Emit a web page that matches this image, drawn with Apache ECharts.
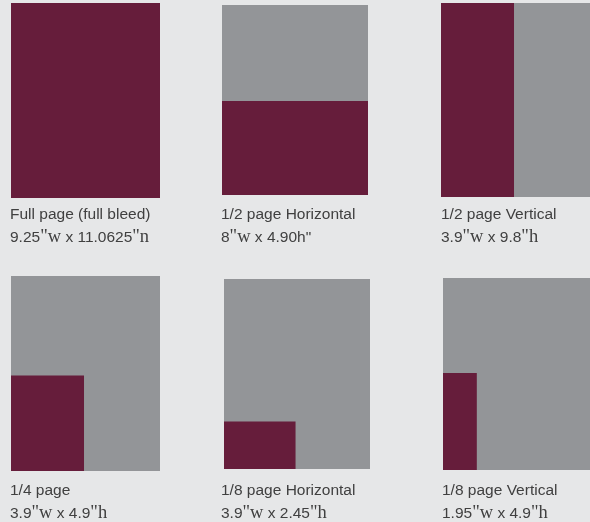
<!DOCTYPE html>
<html><head><meta charset="utf-8">
<script src="https://cdn.jsdelivr.net/npm/echarts@6/dist/echarts.min.js"></script>
<style>html,body{margin:0;padding:0;background:#E6E7E8}#c{width:590px;height:522px}</style>
</head><body><div id="c"></div>
<script>
// Ad formats
const labels = ['Full page (full bleed)', '1/2 page Horizontal', '1/2 page Vertical', '1/4 page', '1/8 page Horizontal', '1/8 page Vertical'];
const sizes = ['9.25"w x 11.0625"n', '8"w x 4.90h"', '3.9"w x 9.8"h', '3.9"w x 4.9"h', '3.9"w x 2.45"h', '1.95"w x 4.9"h'];
// share of the page (width, height) that the ad covers, as drawn
const adWidth = [1, 1, 0.49, 0.49, 0.49, 0.23];
const adHeight = [1, 0.495, 1, 0.49, 0.25, 0.505];

const MAROON = '#661D3B', GRAY = '#939598', TEXT = '#404040';
// layout of the six thumbnails
const boxes = [
  {l: 11, t: 3, w: 149, h: 195, tx: 10, ty: 203},
  {l: 222, t: 5, w: 146, h: 190, tx: 221, ty: 203},
  {l: 441, t: 3, w: 149, h: 194, tx: 441, ty: 203},
  {l: 11, t: 276, w: 149, h: 195, tx: 10, ty: 479},
  {l: 224, t: 279, w: 146, h: 190, tx: 221, ty: 479},
  {l: 443, t: 278, w: 147, h: 192, tx: 442, ty: 479}
];

function richSize(s) {
  return s.split(/("[whn])/).filter(x => x).map(p => /^"[whn]$/.test(p) ? '{s|' + p + '}' : '{b|' + p + '}').join('');
}

const grid = [], xAxis = [], yAxis = [], series = [], title = [];
boxes.forEach((b, i) => {
  grid.push({left: b.l, top: b.t, width: b.w, height: b.h});
  xAxis.push({type: 'value', gridIndex: i, min: 0, max: 1, show: false});
  yAxis.push({type: 'value', gridIndex: i, min: 0, max: 1, show: false});
  series.push({
    type: 'custom', xAxisIndex: i, yAxisIndex: i, silent: true,
    data: [[0, 0, 1, 1, 0], [0, 0, adWidth[i], adHeight[i], 1]],
    renderItem: function (params, api) {
      const p0 = api.coord([api.value(0), api.value(1)]);
      const p1 = api.coord([api.value(2), api.value(3)]);
      return {
        type: 'rect',
        shape: {x: p0[0], y: p1[1], width: p1[0] - p0[0], height: p0[1] - p1[1]},
        style: {fill: api.value(4) === 1 ? MAROON : GRAY}
      };
    }
  });
  title.push({
    left: b.tx, top: b.ty, padding: 0,
    text: '{a|' + labels[i] + '}\n' + richSize(sizes[i]),
    textStyle: {
      fontWeight: 'normal',
      rich: {
        a: {fontFamily: 'Liberation Sans', fontWeight: 'normal', fontSize: 15.5, color: TEXT, lineHeight: 23},
        b: {fontFamily: 'Liberation Sans', fontWeight: 'normal', fontSize: 15.5, color: TEXT, lineHeight: 23},
        s: {fontFamily: 'Liberation Serif', fontWeight: 'normal', fontSize: 18.5, color: TEXT, lineHeight: 23}
      }
    }
  });
});

const chart = echarts.init(document.getElementById('c'), null, {renderer: 'canvas'});
chart.setOption({backgroundColor: '#E6E7E8', animation: false, grid, xAxis, yAxis, series, title});
</script></body></html>
